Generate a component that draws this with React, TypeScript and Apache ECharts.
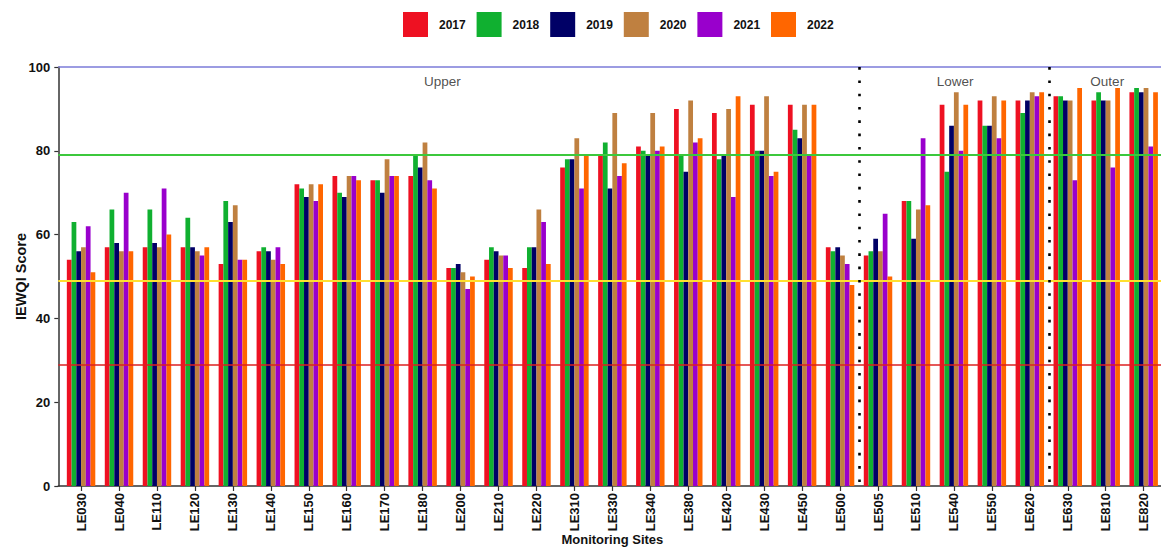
import React, { useEffect, useRef } from "react";
import * as echarts from "echarts";

const sites = [
  "LE030", "LE040", "LE110", "LE120", "LE130", "LE140", "LE150", "LE160", "LE170", "LE180",
  "LE200", "LE210", "LE220", "LE310", "LE330", "LE340", "LE380", "LE420", "LE430", "LE450",
  "LE500", "LE505", "LE510", "LE540", "LE550", "LE620", "LE630", "LE810", "LE820",
];
const years = ["2017", "2018", "2019", "2020", "2021", "2022"];
const yearColors = ["#EE1122", "#10B030", "#000066", "#BF8040", "#9900CC", "#FF6600"];

const v2017 = [54, 57, 57, 57, 53, 56, 72, 74, 73, 74, 52, 54, 52, 76, 79, 81, 90, 89, 91, 91, 57, 55, 68, 91, 92, 92, 93, 92, 94];
const v2018 = [63, 66, 66, 64, 68, 57, 71, 70, 73, 79, 52, 57, 57, 78, 82, 80, 79, 78, 80, 85, 56, 56, 68, 75, 86, 89, 93, 94, 95];
const v2019 = [56, 58, 58, 57, 63, 56, 69, 69, 70, 76, 53, 56, 57, 78, 71, 79, 75, 79, 80, 83, 57, 59, 59, 86, 86, 92, 92, 92, 94];
const v2020 = [57, 56, 57, 56, 67, 54, 72, 74, 78, 82, 51, 55, 66, 83, 89, 89, 92, 90, 93, 91, 55, 56, 66, 94, 93, 94, 92, 92, 95];
const v2021 = [62, 70, 71, 55, 54, 57, 68, 74, 74, 73, 47, 55, 63, 71, 74, 80, 82, 69, 74, 79, 53, 65, 83, 80, 83, 93, 73, 76, 81];
const v2022 = [51, 56, 60, 57, 54, 53, 72, 73, 74, 71, 50, 52, 53, 79, 77, 81, 83, 93, 75, 91, 48, 50, 67, 91, 92, 94, 95, 95, 94];
const seriesValues = [v2017, v2018, v2019, v2020, v2021, v2022];

// threshold lines (score, colour, width)
const thresholds = [100, 79, 49, 29];
const thresholdColors = ["#7B7BD8", "#3CC83C", "#FFE030", "#DD2020"];
const thresholdWidths = [1.5, 2, 2, 1.5];

// region separators (between categories) and region labels
const separators = [20.5, 25.5];
const regionNames = ["Upper", "Lower", "Outer"];
const regionX = [9.52, 23.03, 27.04];
const regionY = 96.6;

const yTicks = { min: 0, max: 100, interval: 20 };

export default function App() {
  const ref = useRef<HTMLDivElement>(null);

  useEffect(() => {
    if (!ref.current) return;
    const chart = echarts.init(ref.current, undefined, { renderer: "svg" });

    const band = 37.95;
    const g2Left = 58.3;
    const g2Width = 29.2 * band;
    const g1Left = g2Left + 0.1 * band;
    const g1Width = 29 * band;
    const top = 67;
    const height = 419;

    const font = "Arial, 'Liberation Sans', sans-serif";

    const barSeries = years.map((y, i) => ({
      name: y,
      type: "bar",
      xAxisIndex: 0,
      yAxisIndex: 0,
      data: seriesValues[i],
      barGap: "0%",
      barCategoryGap: "25%",
      itemStyle: { color: yearColors[i] },
      z: 2,
    }));

    const option: any = {
      animation: false,
      textStyle: { fontFamily: font },
      legend: {
        data: years,
        top: 7,
        left: 398,
        itemWidth: 25,
        itemHeight: 25,
        itemGap: 10.9,
        icon: "rect",
        textStyle: {
          fontFamily: font,
          fontWeight: "bold",
          fontSize: 12,
          color: "#111",
          padding: [0, 0, 0, 6],
        },
      },
      grid: [
        { left: g1Left, top, width: g1Width, height, containLabel: false, outerBoundsMode: "none" },
        { left: g2Left, top, width: g2Width, height, containLabel: false, outerBoundsMode: "none" },
      ],
      xAxis: [
        {
          type: "category",
          gridIndex: 0,
          data: sites,
          axisLine: { show: false },
          axisTick: { show: true, alignWithLabel: true, length: 5, lineStyle: { color: "#333", width: 1.2 } },
          axisLabel: {
            rotate: 90,
            interval: 0,
            margin: 7,
            fontFamily: font,
            fontWeight: "bold",
            fontSize: 13,
            color: "#111",
          },
          splitLine: { show: false },
        },
        {
          type: "value",
          gridIndex: 1,
          min: -0.6,
          max: 28.6,
          axisLine: { show: true, onZero: false, lineStyle: { color: "#333", width: 1.5 } },
          axisTick: { show: false },
          axisLabel: { show: false },
          splitLine: { show: false },
          name: "Monitoring Sites",
          nameLocation: "middle",
          nameGap: 47,
          nameMoveOverlap: false,
          nameTextStyle: { fontFamily: font, fontWeight: "bold", fontSize: 13, color: "#111" },
        },
      ],
      yAxis: [
        {
          type: "value",
          gridIndex: 0,
          min: yTicks.min,
          max: yTicks.max,
          interval: yTicks.interval,
          show: false,
        },
        {
          type: "value",
          gridIndex: 1,
          min: yTicks.min,
          max: yTicks.max,
          interval: yTicks.interval,
          axisLine: { show: true, onZero: false, lineStyle: { color: "#333", width: 1.5 } },
          axisTick: { show: true, length: 4, lineStyle: { color: "#333", width: 1.2 } },
          axisLabel: { margin: 8, fontFamily: font, fontWeight: "bold", fontSize: 13, color: "#111" },
          splitLine: { show: false },
          name: "IEWQI Score",
          nameLocation: "middle",
          nameGap: 30,
          nameRotate: 90,
          nameMoveOverlap: false,
          nameTextStyle: { fontFamily: font, fontWeight: "bold", fontSize: 14.5, color: "#111" },
        },
      ],
      series: [
        ...barSeries,
        {
          type: "line",
          xAxisIndex: 1,
          yAxisIndex: 1,
          data: [],
          silent: true,
          z: 5,
          markLine: {
            silent: true,
            symbol: "none",
            label: { show: false },
            animation: false,
            data: [
              ...thresholds.map((t, i) => ({
                yAxis: t,
                lineStyle: { color: thresholdColors[i], width: thresholdWidths[i], type: "solid" },
              })),
              ...separators.map((s) => ({
                xAxis: s,
                lineStyle: { color: "#000", width: 2.6, type: [2.6, 10.7], cap: "butt", dashOffset: -4 },
              })),
            ],
          },
        },
        {
          type: "scatter",
          xAxisIndex: 1,
          yAxisIndex: 1,
          symbolSize: 0,
          silent: true,
          z: 6,
          data: regionNames.map((n, i) => ({ value: [regionX[i], regionY], name: n })),
          label: {
            show: true,
            position: "inside",
            formatter: (p: any) => p.name,
            fontFamily: font,
            fontSize: 13.5,
            color: "#222",
          },
        },
      ],
    };

    chart.setOption(option);
    return () => chart.dispose();
  }, []);

  return (
    <div
      style={{
        position: "fixed",
        left: 0,
        top: 0,
        width: 1161,
        height: 547,
        overflow: "hidden",
        background: "#fff",
      }}
    >
      <div ref={ref} style={{ width: 1200, height: 547 }} />
    </div>
  );
}
